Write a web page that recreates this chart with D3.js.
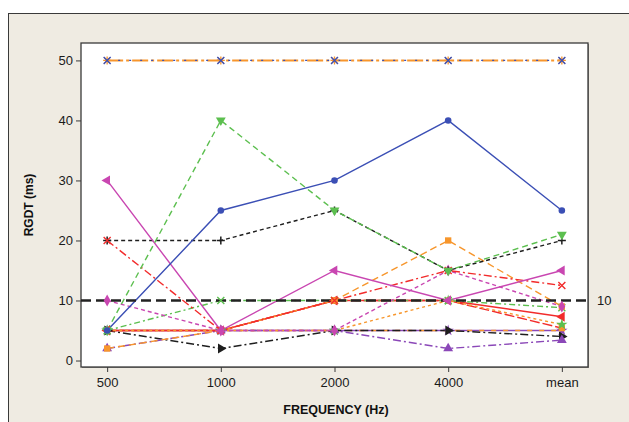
<!DOCTYPE html>
<html>
<head>
<meta charset="utf-8">
<script src="https://cdn.jsdelivr.net/npm/d3@7"></script>
<style>
    html, body { margin: 0; padding: 0; background: #fff; }
    svg { display: block; font-family: "Liberation Sans", Arial, sans-serif; }
</style>
</head>
<body>
<div id="chart"></div>
<script>
// categories on the x axis
var categories = ['500', '1000', '2000', '4000', 'mean'];
var yTicks = [0, 10, 20, 30, 40, 50];
var refValue = 10;

// subject values (ms)
var orange50 = [50, 50, 50, 50, 50];
var blue50 = [50, 50, 50, 50, 50];
var blueSolid = [5, 25, 30, 40, 25];
var greenDash = [5, 40, 25, 15, 21];
var blackDash = [20, 20, 25, 15, 20];
var magentaSolid = [30, 5, 15, 10, 15];
var redDashDot = [20, 5, 10, 15, 12.5];
var magentaDash = [10, 5, 5, 15, 9];
var orangeDash = [2, 5, 10, 20, 9];
var greenDashDot = [5, 10, 10, 10, 8.8];
var orangeDot = [5, 5, 5, 10, 6];
var purpleSolid = [5, 5, 5, 5, 5];
var orange5 = [5, 5, 5, 5, 5];
var blackDashDot = [5, 2, 5, 5, 4];
var purpleDashDot = [2, 5, 5, 2, 3.4];
var redSolid = [5, 5, 10, 10, 7.3];
var redDash = [5, 5, 10, 10, 5.4];

(function () {
    var C = {
        blue: '#3b4fb5', green: '#5cbf4f', black: '#1e1e1e', magenta: '#c946b1',
        red: '#f22b2b', orange: '#f7962c', purple: '#8b48b8'
    };

    var series = [
        { v: orange50, c: C.orange, dash: '16,3,3,3', w: 2, m: 'asterisk' },
        { v: blue50, c: C.blue, dash: '2,9', m: 'x' },
        { v: purpleSolid, c: C.purple, dash: null, w: 1.6, m: 'star' },
        { v: orange5, c: C.orange, dash: '5,7', m: null },
        { v: blackDashDot, c: C.black, dash: '8,3,2,3', m: 'triRight' },
        { v: purpleDashDot, c: C.purple, dash: '8,3,2,3', m: 'triUp' },
        { v: redDash, c: C.red, dash: '10,3', m: 'square', mc: C.orange },
        { v: redSolid, c: C.red, dash: null, m: 'triLeft' },
        { v: orangeDot, c: C.orange, dash: '3,3', m: 'star', mc: C.green },
        { v: greenDashDot, c: C.green, dash: '6,3,2,3', m: 'x' },
        { v: orangeDash, c: C.orange, dash: '7,4', m: 'square' },
        { v: magentaDash, c: C.magenta, dash: '4,3', m: 'diamond' },
        { v: blackDash, c: C.black, dash: '4,3', m: 'plus' },
        { v: redDashDot, c: C.red, dash: '8,3,2,3', m: 'x' },
        { v: magentaSolid, c: C.magenta, dash: null, m: 'triLeft' },
        { v: greenDash, c: C.green, dash: '6,4', m: 'triDown' },
        { v: blueSolid, c: C.blue, dash: null, m: 'circle' }
    ];

    var W = 629, H = 422;
    var plot = { left: 81, top: 43, right: 588, bottom: 367 };

    var svg = d3.select('#chart').append('svg')
        .attr('width', W)
        .attr('height', H);

    // beige panel behind the chart
    svg.append('rect')
        .attr('x', 8.5).attr('y', 13.5)
        .attr('width', W + 10).attr('height', H + 10)
        .attr('fill', '#efebe2')
        .attr('stroke', '#3a3a3a')
        .attr('stroke-width', 1);

    // plot area
    svg.append('rect')
        .attr('x', plot.left + 1).attr('y', plot.top + 1)
        .attr('width', plot.right - plot.left).attr('height', plot.bottom - plot.top)
        .attr('fill', '#8a8780');
    svg.append('rect')
        .attr('x', plot.left).attr('y', plot.top)
        .attr('width', plot.right - plot.left).attr('height', plot.bottom - plot.top)
        .attr('fill', '#fff')
        .attr('stroke', '#3a3a3a')
        .attr('stroke-width', 1.3);

    var x = d3.scalePoint()
        .domain(categories)
        .range([plot.left, plot.right])
        .padding(0.23);

    var y = d3.scaleLinear()
        .domain([-1.08, 52.9])
        .range([plot.bottom, plot.top]);

    // axes
    var yAxis = svg.append('g')
        .attr('transform', 'translate(' + plot.left + ',0)')
        .call(d3.axisLeft(y).tickValues(yTicks).tickSize(5).tickPadding(3));
    var xAxis = svg.append('g')
        .attr('transform', 'translate(0,' + plot.bottom + ')')
        .call(d3.axisBottom(x).tickSize(5).tickPadding(6));
    [yAxis, xAxis].forEach(function (g) {
        g.select('.domain').remove();
        g.selectAll('line').attr('stroke', '#3a3a3a');
        g.selectAll('text')
            .attr('fill', '#1a1a1a')
            .style('font-size', '13px')
            .style('font-family', '"Liberation Sans", Arial, sans-serif');
    });

    // axis titles
    svg.append('text')
        .attr('transform', 'translate(33,' + ((plot.top + plot.bottom) / 2) + ') rotate(-90)')
        .attr('text-anchor', 'middle')
        .style('font-size', '12px')
        .style('font-weight', 'bold')
        .attr('fill', '#111')
        .text('RGDT (ms)');
    svg.append('text')
        .attr('x', 336).attr('y', 414)
        .attr('text-anchor', 'middle')
        .style('font-size', '12.5px')
        .style('font-weight', 'bold')
        .attr('fill', '#111')
        .text('FREQUENCY (Hz)');

    var line = d3.line()
        .x(function (d, i) { return x(categories[i]); })
        .y(function (d) { return y(d); });

    var lines = svg.append('g');
    series.forEach(function (s) {
        lines.append('path')
            .datum(s.v)
            .attr('fill', 'none')
            .attr('stroke', s.c)
            .attr('stroke-width', s.w || 1.4)
            .attr('stroke-dasharray', s.dash)
            .attr('d', line);
    });

    // reference line at 10
    svg.append('line')
        .attr('x1', plot.left).attr('x2', plot.right + 2)
        .attr('y1', y(refValue)).attr('y2', y(refValue))
        .attr('stroke', '#222')
        .attr('stroke-width', 2.4)
        .attr('stroke-dasharray', '10,5');
    svg.append('text')
        .attr('x', plot.right + 9).attr('y', y(refValue))
        .attr('dy', '0.35em')
        .style('font-size', '13px')
        .attr('fill', '#1a1a1a')
        .text(refValue);

    var tri = d3.symbol().type(d3.symbolTriangle).size(42);
    function markerPath(sel, kind, col) {
        if (kind === 'circle') {
            sel.append('path').attr('d', d3.symbol().type(d3.symbolCircle).size(34)).attr('fill', col);
        } else if (kind === 'square') {
            sel.append('path').attr('d', d3.symbol().type(d3.symbolSquare).size(40)).attr('fill', col);
        } else if (kind === 'diamond') {
            sel.append('path').attr('d', d3.symbol().type(d3.symbolDiamond).size(40)).attr('fill', col);
        } else if (kind === 'star') {
            sel.append('path').attr('d', d3.symbol().type(d3.symbolStar).size(40)).attr('fill', col);
        } else if (kind === 'triUp' || kind === 'triDown' || kind === 'triLeft' || kind === 'triRight') {
            var rot = { triUp: 0, triRight: 90, triDown: 180, triLeft: 270 }[kind];
            sel.append('path').attr('d', tri).attr('transform', 'rotate(' + rot + ')').attr('fill', col);
        } else if (kind === 'plus') {
            sel.append('path').attr('d', 'M-4,0H4M0,-4V4').attr('stroke', col).attr('stroke-width', 1.5);
        } else if (kind === 'x') {
            sel.append('path').attr('d', 'M-3.5,-3.5L3.5,3.5M-3.5,3.5L3.5,-3.5').attr('stroke', col).attr('stroke-width', 1.4);
        } else if (kind === 'asterisk') {
            sel.append('path').attr('d', 'M-4,0H4M0,-4V4M-3,-3L3,3M-3,3L3,-3').attr('stroke', col).attr('stroke-width', 1.3);
        }
    }

    var marks = svg.append('g');
    series.forEach(function (s) {
        if (!s.m) return;
        s.v.forEach(function (d, i) {
            var g = marks.append('g')
                .attr('transform', 'translate(' + x(categories[i]) + ',' + y(d) + ')');
            markerPath(g, s.m, s.mc || s.c);
        });
    });
})();
</script>
</body>
</html>
